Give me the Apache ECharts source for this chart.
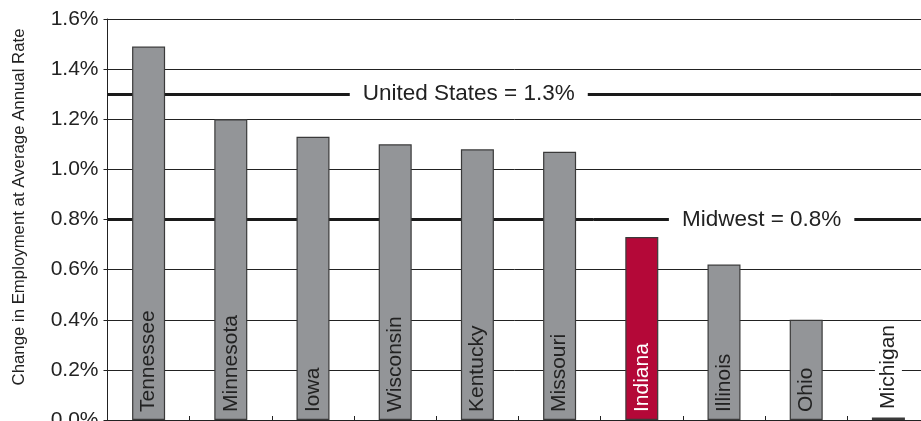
<!DOCTYPE html>
<html>
<head>
<meta charset="utf-8">
<script src="https://cdn.jsdelivr.net/npm/echarts@6/dist/echarts.min.js"></script>
<style>html,body{margin:0;padding:0;background:#fff;}#c{width:921px;height:421px;}</style>
</head>
<body>
<div id="c"></div>
<script>
const states = ['Tennessee','Minnesota','Iowa','Wisconsin','Kentucky','Missouri','Indiana','Illinois','Ohio','Michigan'];
const changes = [1.49, 1.20, 1.13, 1.10, 1.08, 1.07, 0.73, 0.62, 0.40, 0.01];
const yTicks = [0, 0.2, 0.4, 0.6, 0.8, 1.0, 1.2, 1.4, 1.6];
const usRate = 1.3;
const midwestRate = 0.8;

const FONT = 'Liberation Sans, Arial, Helvetica, sans-serif';
const chart = echarts.init(document.getElementById('c'), null, {renderer: 'canvas'});

const barData = states.map((s, i) => {
  const d = {value: changes[i]};
  if (s === 'Indiana') {
    d.itemStyle = {color: '#b40838'};
    d.label = {color: '#ffffff'};
  }
  if (s === 'Michigan') {
    d.label = {backgroundColor: '#ffffff', padding: [4, 3, 2, 3]};
  }
  return d;
});

const refLabel = {
  show: true, position: 'middle', distance: 0, verticalAlign: 'middle',
  color: '#222', fontFamily: FONT, fontSize: 22.5,
  backgroundColor: '#ffffff', padding: [2, 13, 2, 13]
};
const refStyle = {color: '#1a1a1a', width: 3, type: 'solid'};

chart.setOption({
  animation: false,
  grid: {left: 107.5, right: -8.5, top: 19, bottom: 1, containLabel: false, outerBoundsMode: 'none'},
  xAxis: [
    {
      type: 'category', data: states,
      axisLine: {show: true, lineStyle: {color: '#222', width: 1}},
      axisTick: {show: true, inside: true, length: 4, lineStyle: {color: '#222'}},
      axisLabel: {show: false},
      splitLine: {show: false}
    },
    {
      type: 'value', min: 0, max: states.length, show: false
    }
  ],
  yAxis: {
    type: 'value', min: yTicks[0], max: yTicks[yTicks.length - 1], interval: 0.2,
    name: 'Change in Employment at Average Annual Rate',
    nameLocation: 'middle', nameGap: 80, nameRotate: 90,
    nameTextStyle: {fontFamily: FONT, fontSize: 16.8, color: '#222', padding: [0, 0, 0, 25]},
    axisLine: {show: true, lineStyle: {color: '#222', width: 1}},
    axisTick: {show: true, inside: false, length: 4, lineStyle: {color: '#222'}},
    axisLabel: {
      fontFamily: FONT, fontSize: 21, color: '#222', margin: 9,
      formatter: v => v.toFixed(1) + '%'
    },
    splitLine: {show: true, lineStyle: {color: '#222', width: 1}}
  },
  series: [
    {
      type: 'line', xAxisIndex: 1, data: [], z: 1, silent: true,
      markLine: {
        z: 1, silent: true, symbol: 'none', animation: false,
        lineStyle: refStyle,
        data: [
          [{coord: [0, usRate], label: Object.assign({}, refLabel, {formatter: 'United States = ' + usRate + '%'})},
           {coord: [8.79, usRate]}],
          [{coord: [8.79, usRate], label: {show: false}}, {coord: [states.length, usRate]}],
          [{coord: [0, midwestRate], label: {show: false}}, {coord: [5.915, midwestRate]}],
          [{coord: [5.915, midwestRate], label: Object.assign({}, refLabel, {formatter: 'Midwest = ' + midwestRate + '%'})},
           {coord: [states.length, midwestRate]}]
        ]
      }
    },
    {
      type: 'bar', data: barData, barWidth: 33, z: 3,
      itemStyle: {color: '#939598', borderColor: '#3a3a3a', borderWidth: 1.2},
      label: {
        show: true, position: 'insideBottom', distance: 8, rotate: 90,
        align: 'left', verticalAlign: 'middle',
        formatter: p => p.name,
        fontFamily: FONT, fontSize: 21, color: '#222'
      }
    }
  ]
});
</script>
</body>
</html>
